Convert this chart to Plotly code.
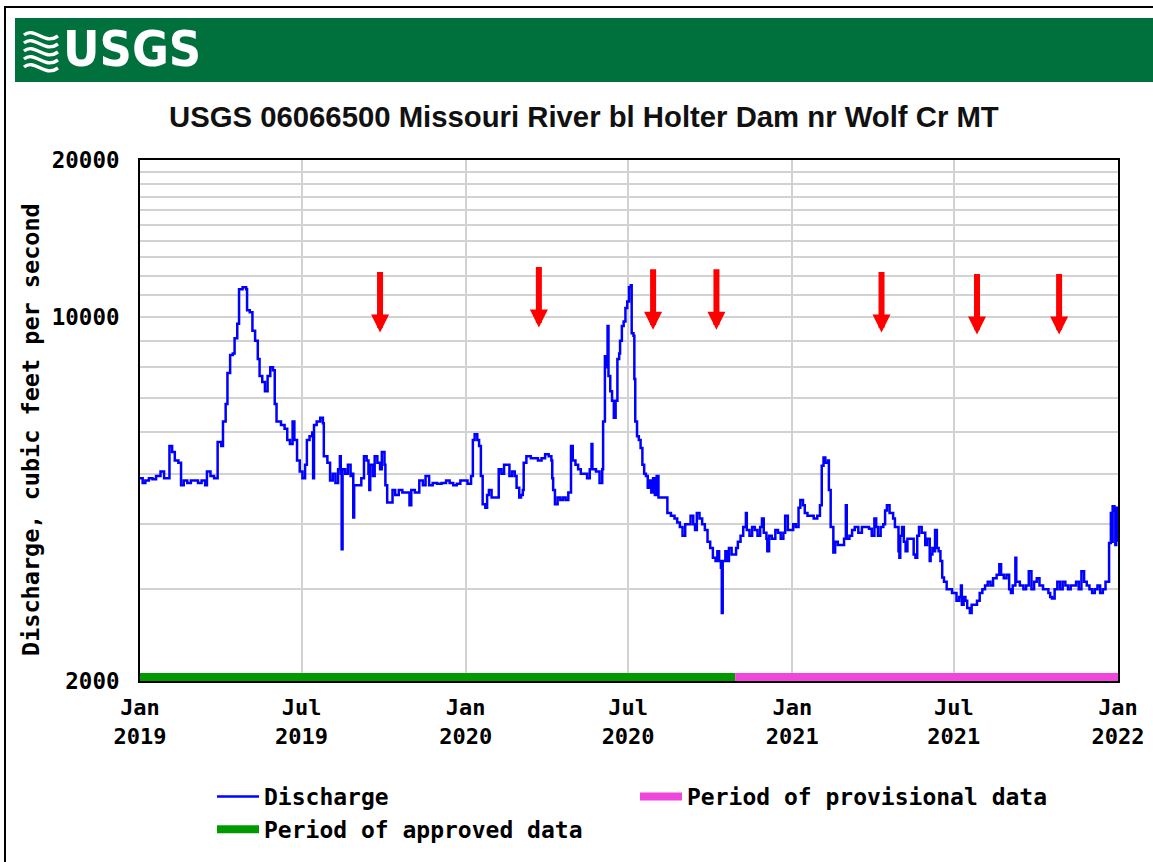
import math
import plotly.graph_objects as go

# ---------------- data ----------------
d2019 = ["01-01","01-04","01-07","01-11","01-15","01-19","01-24","01-28","02-02","02-03","02-06","02-09","02-13",
         "02-16","02-19","02-23","02-27","03-03","03-07","03-11","03-15","03-17","03-21","03-25","03-29","04-02",
         "04-04","04-07","04-09","04-12","04-15","04-17","04-20","04-22","04-26","04-30","05-01","05-04","05-07",
         "05-10","05-13","05-15","05-18","05-21","05-24","05-27","05-30","06-01","06-03","06-08","06-12","06-15",
         "06-18","06-21","06-23","06-26","06-29","07-02","07-05","07-07","07-10","07-13","07-14","07-15","07-18",
         "07-22","07-25","07-26","07-30","08-02","08-05","08-08","08-11","08-13","08-14","08-15","08-16","08-19",
         "08-22","08-25","08-27","08-28","08-29","09-02","09-06","09-09","09-12","09-14","09-15","09-16","09-19",
         "09-21","09-24","09-27","09-29","10-02","10-03","10-05","10-09","10-11","10-14","10-18","10-22","10-26",
         "10-30","11-01","11-05","11-10","11-14","11-17","11-21","11-25","11-30","12-05","12-10","12-14","12-18",
         "12-22","12-26","12-30"]
q2019 = [4900,4800,4850,4900,4880,4950,5050,4900,4900,5650,5500,5300,5250,
         4750,4850,4800,4850,4850,4800,4850,4750,5050,4950,4900,5750,5650,
         6300,6800,7800,8450,8500,9100,9700,11300,11400,11300,10300,10200,9400,
         9000,8300,7700,7500,7200,7700,8000,7900,6800,6300,6200,6100,5800,
         5700,6300,5800,5300,5050,4900,5200,5800,5900,6000,4900,6200,6300,
         6400,6250,5400,5250,4850,5000,4800,5100,5400,5000,3580,5100,5000,
         5200,4950,5000,4120,4750,4750,4900,5400,5300,5000,4650,5200,4950,
         5400,5250,5100,5500,5200,4750,4400,4400,4650,4550,4650,4600,4600,
         4350,4650,4600,4850,4750,4950,4750,4800,4780,4800,4850,4800,4750,
         4780,4850,4850]

d2020 = ["01-03","01-07","01-09","01-11","01-14","01-16","01-18","01-20","01-23","01-25","01-27","01-30","02-04",
         "02-07","02-10","02-13","02-16","02-19","02-22","02-25","02-27","03-01","03-03","03-05","03-06","03-09",
         "03-14","03-19","03-22","03-26","03-30","04-03","04-06","04-07","04-08","04-10","04-13","04-16","04-19",
         "04-22","04-25","04-28","04-30","05-03","05-06","05-09","05-12","05-16","05-19","05-21","05-22","05-26",
         "05-30","06-02","06-03","06-05","06-07","06-08","06-09","06-11","06-13","06-15","06-17","06-19","06-21",
         "06-22","06-24","06-26","06-28","06-30","07-02","07-04","07-05","07-07","07-08","07-09","07-11","07-13",
         "07-15","07-17","07-19","07-21","07-23","07-25","07-27","07-29","07-31","08-02","08-04","08-08","08-12",
         "08-14","08-18","08-22","08-25","08-28","08-31","09-03","09-06","09-09","09-12","09-14","09-16","09-19",
         "09-22","09-25","09-28","10-01","10-04","10-07","10-09","10-11","10-13","10-14","10-15","10-18","10-20",
         "10-22","10-25","10-28","10-30","11-01","11-04","11-07","11-10","11-11","11-14","11-17","11-20","11-23",
         "11-26","11-28","11-30","12-03","12-04","12-06","12-09","12-13","12-16","12-19","12-22","12-24","12-27",
         "12-30"]
q2020 = [4780,4950,5800,5950,5800,5650,4950,4370,4300,4550,4650,4500,4500,
         5100,5000,5200,5200,4950,5050,4950,4700,4500,4550,4650,5250,5400,
         5350,5350,5300,5350,5450,5400,5300,4900,4650,4370,4500,4450,4500,
         4450,4600,5650,5300,5200,5100,5000,5000,4900,5100,5700,5100,5050,
         4800,5100,6300,8400,8000,9600,7700,7200,6900,6400,6900,8300,8500,
         9000,9600,9800,10400,10700,11400,11500,9300,9200,7600,6300,5900,5800,
         5600,5200,5000,4950,4700,4850,4600,4900,4550,4950,4500,4500,4500,
         4200,4150,4100,4030,3950,3800,4000,4000,4150,4000,3900,4200,4100,
         4000,3900,3700,3600,3450,3400,3550,3400,3300,2700,3400,3550,3400,
         3600,3500,3500,3600,3700,3800,3950,4200,3900,3800,3950,3900,3800,
         3950,4100,3850,3750,3550,3800,3750,3900,3850,3750,3850,4150,3900,
         3900]

d2021 = ["01-02","01-05","01-08","01-10","01-13","01-15","01-18","01-21","01-25","01-29","02-01","02-03","02-05",
         "02-07","02-10","02-11","02-13","02-16","02-18","02-21","02-25","02-28","03-02","03-03","03-06","03-09",
         "03-12","03-16","03-20","03-24","03-28","03-31","04-03","04-05","04-07","04-10","04-13","04-15","04-17",
         "04-20","04-24","04-26","04-30","05-01","05-02","05-04","05-06","05-08","05-10","05-13","05-17","05-19",
         "05-21","05-23","05-26","05-30","06-01","06-04","06-05","06-07","06-09","06-10","06-12","06-14","06-16",
         "06-18","06-20","06-23","06-26","06-29","07-02","07-04","07-07","07-09","07-10","07-12","07-14","07-16",
         "07-19","07-21","07-24","07-27","07-30","08-02","08-05","08-08","08-11","08-14","08-18","08-21","08-23",
         "08-26","08-29","09-01","09-03","09-05","09-08","09-09","09-13","09-17","09-20","09-23","09-26","09-29",
         "10-02","10-05","10-09","10-12","10-15","10-17","10-19","10-22","10-25","10-28","10-31","11-03","11-06",
         "11-09","11-12","11-15","11-18","11-21","11-24","11-27","11-30","12-03","12-06","12-09","12-12","12-15",
         "12-18","12-20","12-22","12-24","12-25","12-26","12-28","12-29","12-30","12-31"]
q2021 = [4000,3950,4300,4450,4350,4200,4150,4150,4100,4150,4350,5180,5370,
         5250,5300,4650,3950,3530,3700,3650,3650,3750,4350,3750,3800,3900,
         3950,3850,3950,3950,3920,3800,4100,3950,3800,3950,4000,4250,4350,
         4200,4100,3950,3550,3450,3800,3950,3700,3550,3750,3750,3500,3450,
         3800,3950,3850,3650,3750,3400,3500,3600,3550,3900,3600,3550,3400,
         3160,3100,3000,3000,2950,2950,2850,2900,3050,2800,2900,2850,2760,
         2700,2800,2800,2850,2950,3000,3050,3100,3050,3150,3200,3350,3200,
         3150,3200,3000,2950,3050,3450,3100,3050,3000,3050,3250,3000,3100,
         3150,3050,3000,3000,2950,2900,2880,3000,3100,3000,3100,3050,3000,
         3050,3050,3100,3000,3250,3100,3050,3000,2950,3000,3050,2950,3000,
         3100,3100,3680,4200,3700,4330,4250,3650,4300,3700]

approved_period = ["2019-01-01", "2020-10-29"]
provisional_period = ["2020-10-29", "2022-01-01"]

arrow_dates = ["2019-09-27", "2020-03-23", "2020-07-29", "2020-10-08", "2021-04-11", "2021-07-27", "2021-10-27"]
arrow_tip_q = [9330, 9540, 9450, 9450, 9330, 9250, 9250]

y_ticks = list(range(2000, 20001, 1000))
y_labels = {2000: "2000", 10000: "10000", 20000: "20000"}
x_ticks = ["2019-01-01", "2019-07-01", "2020-01-01", "2020-07-01", "2021-01-01", "2021-07-01", "2022-01-01"]
x_labels = ["Jan<br>2019", "Jul<br>2019", "Jan<br>2020", "Jul<br>2020", "Jan<br>2021", "Jul<br>2021", "Jan<br>2022"]

title_text = "USGS 06066500 Missouri River bl Holter Dam nr Wolf Cr MT"
y_title = "Discharge, cubic feet per second"

dates = ["2019-" + d for d in d2019] + ["2020-" + d for d in d2020] + ["2021-" + d for d in d2021]
flows = q2019 + q2020 + q2021

# ---------------- layout helpers ----------------
W, H = 1153, 862
ML, MR, MT, MB = 140, 35, 160, 181
PW = W - ML - MR
PH = H - MT - MB


def px(x):
    return (x - ML) / PW


def py(y):
    return (H - MB - y) / PH


MONO = "DejaVu Sans Mono"
BLUE = "#0000ff"
GREEN = "#009a00"
MAGENTA = "#f046dc"
USGS_GREEN = "#00703c"

fig = go.Figure()
fig.add_trace(go.Scatter(x=dates, y=flows, mode="lines", name="Discharge",
                         line=dict(color=BLUE, width=2.5, shape="hv"), hoverinfo="x+y"))
fig.add_trace(go.Scatter(x=[None], y=[None], mode="lines", name="Period of provisional data",
                         line=dict(color=MAGENTA, width=8)))
fig.add_trace(go.Scatter(x=[None], y=[None], mode="lines", name="Period of approved data",
                         line=dict(color=GREEN, width=8)))

shapes = []
# period bars along the bottom of the plot
shapes.append(dict(type="rect", xref="x", yref="paper", x0=approved_period[0], x1=approved_period[1],
                   y0=0.0, y1=8 / PH, fillcolor=GREEN, line=dict(width=0), layer="above"))
shapes.append(dict(type="rect", xref="x", yref="paper", x0=provisional_period[0], x1=provisional_period[1],
                   y0=0.0, y1=8 / PH, fillcolor=MAGENTA, line=dict(width=0), layer="above"))
# header band
shapes.append(dict(type="rect", xref="paper", yref="paper", x0=px(15), x1=px(1200), y0=py(82), y1=py(18),
                   fillcolor=USGS_GREEN, line=dict(width=0), layer="below"))
# outer border
shapes.append(dict(type="rect", xref="paper", yref="paper", x0=px(5), x1=px(1220), y0=py(940), y1=py(7),
                   fillcolor="rgba(0,0,0,0)", line=dict(color="black", width=2), layer="below"))
# logo waves
for i in range(5):
    y0 = 33 + i * 8
    path = "M {} {} C {} {} {} {} {} {}".format(
        px(24), py(y0 + 2), px(35), py(y0 - 7), px(44), py(y0 + 13), px(58), py(y0 + 3))
    shapes.append(dict(type="path", xref="paper", yref="paper", path=path,
                       line=dict(color="white", width=3.4), layer="above"))

annotations = []
annotations.append(dict(text=title_text, x=px(584), y=py(117), xref="paper", yref="paper",
                        showarrow=False, xanchor="center", yanchor="middle",
                        font=dict(family="Liberation Sans, Arial", size=29.3, color="#111111", weight="bold")))
annotations.append(dict(text="USGS", x=px(61), y=py(49), xref="paper", yref="paper",
                        showarrow=False, xanchor="left", yanchor="middle",
                        font=dict(family="DejaVu Sans Condensed, Liberation Sans Narrow, Liberation Sans", size=50,
                                  color="white", weight="bold")))
annotations.append(dict(text=y_title, x=px(31), y=py(430), xref="paper", yref="paper",
                        showarrow=False, textangle=-90, xanchor="center", yanchor="middle",
                        font=dict(family=MONO, size=23.5, color="black", weight="bold")))
for d, q in zip(arrow_dates, arrow_tip_q):
    annotations.append(dict(x=d, y=math.log10(q), xref="x", yref="y", text="",
                            showarrow=True, arrowhead=2, arrowsize=0.6, arrowwidth=6,
                            arrowcolor="#ff0000", ax=0, ay=-62, axref="pixel", ayref="pixel"))

fig.update_layout(
    width=W, height=H,
    margin=dict(l=ML, r=MR, t=MT, b=MB, autoexpand=False),
    paper_bgcolor="white", plot_bgcolor="white",
    showlegend=True,
    legend=dict(orientation="h", x=px(212), y=py(775), xanchor="left", yanchor="top",
                entrywidth=366, entrywidthmode="pixels", traceorder="normal", itemwidth=42,
                font=dict(family=MONO, size=23, color="black", weight="bold"),
                bgcolor="rgba(0,0,0,0)"),
    shapes=shapes,
    annotations=annotations,
    xaxis=dict(type="date", range=["2019-01-01", "2022-01-01"],
               tickmode="array", tickvals=x_ticks, ticktext=x_labels,
               showgrid=True, gridcolor="#d2d2d2", gridwidth=2,
               showline=True, mirror=True, linecolor="black", linewidth=2,
               ticks="", ticklabelstandoff=6,
               tickfont=dict(family=MONO, size=22, color="black", weight="bold"),
               zeroline=False),
    yaxis=dict(type="log", range=[math.log10(2000), math.log10(20000)],
               tickmode="array", tickvals=y_ticks,
               ticktext=[y_labels.get(v, "") for v in y_ticks],
               showgrid=True, gridcolor="#d2d2d2", gridwidth=2,
               showline=True, mirror=True, linecolor="black", linewidth=2,
               ticks="", ticklabelstandoff=14,
               tickfont=dict(family=MONO, size=22.5, color="black", weight="bold"),
               zeroline=False),
)

fig.write_html("out.html", config={"displayModeBar": False},
               post_script="document.body.style.margin='0';document.body.style.overflow='hidden';")
